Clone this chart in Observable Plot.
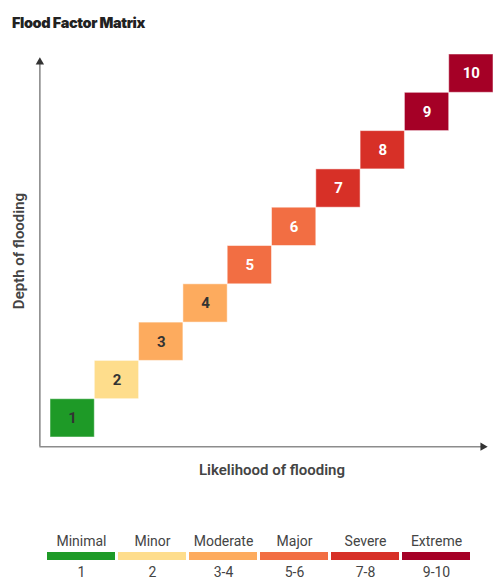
<!DOCTYPE html>
<html><head><meta charset="utf-8">
<script src="https://cdn.jsdelivr.net/npm/d3@7"></script>
<script src="https://cdn.jsdelivr.net/npm/@observablehq/plot@0.6"></script>
<style>
body{margin:0;background:#fff;font-family:Roboto,sans-serif;}
#title{height:40px;box-sizing:border-box;padding:14px 0 0 12px;font:900 14.5px Inter,sans-serif;color:#222;letter-spacing:-0.4px}
#chart,#legend{line-height:0}
</style></head><body>
<div id="title">Flood Factor Matrix</div>
<div id="chart"></div>
<div id="legend"></div>
<script>
// ---- data ----
const scores = [1, 2, 3, 4, 5, 6, 7, 8, 9, 10];
const scoreCategory = ["Minimal", "Minor", "Moderate", "Moderate", "Major", "Major", "Severe", "Severe", "Extreme", "Extreme"];
const categories = ["Minimal", "Minor", "Moderate", "Major", "Severe", "Extreme"];
const categoryRanges = ["1", "2", "3-4", "5-6", "7-8", "9-10"];
const categoryColors = ["#1e9a27", "#fedd8c", "#fdab5e", "#f26e43", "#d73027", "#a50026"];
const darkLabelMax = 4; // scores 1-4 have dark numbers, 5-10 white
const xLabel = "Likelihood of flooding";
const yLabel = "Depth of flooding";
// axis extents (in score units)
const axisStart = -0.24;
const yAxisEnd = 9.80;
const xAxisEnd = 9.76;

const cells = scores.map((s, i) => ({score: s, cat: scoreCategory[i], lo: s - 1, hi: s, mid: s - 0.5}));
const legendData = categories.map((c, i) => ({name: c, range: categoryRanges[i]}));

const axisColor = "#8c8c8c";
const headColor = "#333";

const chart = Plot.plot({
  width: 500, height: 460,
  marginLeft: 50, marginRight: 7, marginTop: 14, marginBottom: 63,
  style: {fontFamily: "Roboto, sans-serif", background: "transparent"},
  x: {domain: [0, 10], axis: null},
  y: {domain: [0, 10], axis: null},
  color: {domain: categories, range: categoryColors},
  marks: [
    Plot.ruleX([axisStart], {y1: axisStart, y2: yAxisEnd, stroke: axisColor, strokeWidth: 1.6}),
    Plot.ruleY([axisStart], {x1: axisStart, x2: xAxisEnd, stroke: axisColor, strokeWidth: 1.6}),
    Plot.dot([{x: axisStart, y: yAxisEnd}], {x: "x", y: "y", symbol: "triangle", r: 3.1, fill: headColor, stroke: null}),
    Plot.dot([{x: xAxisEnd, y: axisStart}], {x: "x", y: "y", symbol: "triangle", r: 3.1, rotate: 90, fill: headColor, stroke: null}),
    Plot.rect(cells, {x1: "lo", x2: "hi", y1: "lo", y2: "hi", fill: "cat", stroke: "#fff", strokeOpacity: 0.5, strokeWidth: 1}),
    Plot.text(cells.filter(d => d.score <= darkLabelMax), {x: "mid", y: "mid", text: "score", fill: "#333", fontWeight: 700, fontSize: 15}),
    Plot.text(cells.filter(d => d.score > darkLabelMax), {x: "mid", y: "mid", text: "score", fill: "#fff", fontWeight: 700, fontSize: 15}),
    Plot.text([xLabel], {frameAnchor: "bottom", dy: 33, text: d => d, fill: "#444", fontWeight: 600, fontSize: 15, lineAnchor: "middle", textAnchor: "middle"}),
    Plot.text([yLabel], {frameAnchor: "left", dx: -31, dy: 5, rotate: -90, text: d => d, fill: "#444", fontWeight: 600, fontSize: 15, lineAnchor: "middle", textAnchor: "middle"})
  ]
});
document.getElementById("chart").append(chart);

const legend = Plot.plot({
  width: 500, height: 85,
  marginLeft: 46, marginRight: 28, marginTop: 52, marginBottom: 25,
  style: {fontFamily: "Roboto, sans-serif", background: "transparent"},
  x: {type: "band", domain: categories, paddingInner: 0.04, paddingOuter: 0, axis: null},
  y: {domain: [0, 1], axis: null},
  color: {domain: categories, range: categoryColors},
  marks: [
    Plot.barY(legendData, {x: "name", y1: 0, y2: 1, fill: "name"}),
    Plot.text(legendData, {x: "name", y: 1, dy: -11, text: "name", fill: "#444", fontSize: 14}),
    Plot.text(legendData, {x: "name", y: 0, dy: 12, text: "range", fill: "#444", fontSize: 14})
  ]
});
document.getElementById("legend").append(legend);
</script>
</body></html>
